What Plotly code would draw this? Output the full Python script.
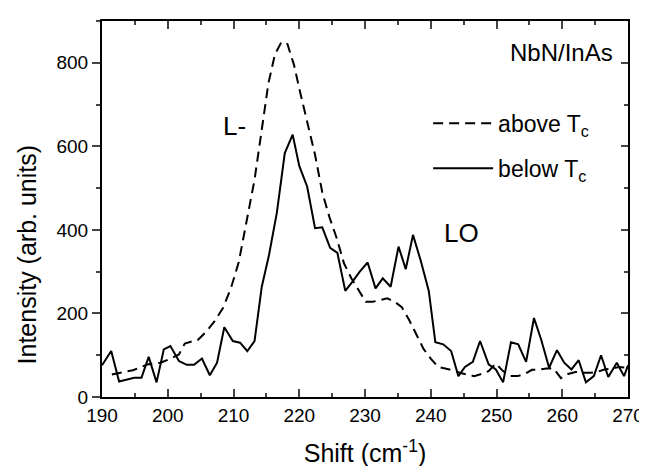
import plotly.graph_objects as go

# Below Tc (solid)
below_x = [190.0, 191.4, 192.6, 193.7, 194.9, 196.0, 197.1, 198.3, 199.4, 200.4,
           201.7, 202.9, 204.0, 205.2, 206.4, 207.5, 208.6, 209.9, 211.0, 212.1,
           213.2, 214.3, 215.4, 216.6, 217.8, 219.0, 220.0, 221.2, 222.4, 223.5,
           224.7, 225.8, 227.0, 228.1, 229.2, 230.4, 231.6, 232.7, 233.9, 235.1,
           236.2, 237.3, 238.5, 239.7, 240.7, 241.9, 243.1, 244.2, 245.2, 246.4,
           247.5, 248.8, 249.9, 251.0, 252.2, 253.3, 254.5, 255.7, 256.8, 258.0,
           259.2, 260.3, 261.4, 262.5, 263.6, 264.8, 265.9, 267.0, 268.3, 269.4,
           270.0]
below_y = [76, 110, 37, 42, 46, 46, 96, 35, 114, 122,
           86, 77, 77, 92, 52, 82, 167, 134, 130, 110,
           134, 264, 340, 442, 584, 628, 553, 504, 404, 406,
           357, 345, 254, 276, 300, 322, 260, 284, 264, 360,
           306, 388, 325, 254, 131, 126, 110, 50, 72, 84,
           134, 78, 66, 35, 131, 126, 84, 189, 137, 70,
           112, 82, 66, 88, 35, 50, 100, 48, 82, 50,
           76]

# Above Tc (dashed)
above_x = [191.5, 193.0, 194.7, 196.9, 198.9, 200.5, 201.7, 202.6, 204.6, 205.9,
           207.1, 208.4, 209.6, 210.8, 212.1, 213.2, 214.3, 215.3, 216.3, 217.3,
           218.2, 219.2, 220.2, 221.3, 222.4, 223.5, 224.6, 225.7, 226.8, 227.9,
           229.0, 230.1, 231.2, 232.3, 233.4, 234.5, 235.6, 236.7, 237.8, 238.9,
           240.0, 241.1, 242.2, 243.3, 244.4, 245.5, 246.6, 247.7, 248.8, 249.9,
           251.0, 252.1, 253.2, 254.3, 255.4, 256.5, 257.6, 258.7, 259.8, 260.9,
           262.0, 263.1, 264.2, 265.3, 266.4, 267.5, 268.6, 269.7]
above_y = [54, 58, 64, 78, 82, 92, 102, 128, 137, 157,
           181, 213, 260, 323, 430, 520, 640, 750, 820, 850,
           845, 795, 725, 656, 580, 490, 430, 380, 320, 285,
           255, 228, 228, 232, 236, 228, 215, 185, 150, 115,
           92, 72, 68, 64, 58, 54, 50, 55, 62, 80,
           62, 50, 50, 55, 65, 66, 68, 68, 45, 55,
           60, 58, 58, 60, 66, 68, 72, 70]

x_range = [190, 270]
y_range = [0, 900]
x_ticks = [190, 200, 210, 220, 230, 240, 250, 260, 270]
y_ticks = [0, 200, 400, 600, 800]

FONT = "Liberation Sans, Arial, sans-serif"

fig = go.Figure()
fig.add_trace(go.Scatter(x=above_x, y=above_y, mode="lines", name="above T<sub>c</sub>",
                         line=dict(color="black", width=2, dash="10px,6px"),
                         legendgroup="a"))
fig.add_trace(go.Scatter(x=below_x, y=below_y, mode="lines", name="below T<sub>c</sub>",
                         line=dict(color="black", width=2), legendgroup="b"))
# empty trace to carry the right-hand axis
fig.add_trace(go.Scatter(x=[], y=[], yaxis="y2", showlegend=False, hoverinfo="skip"))

fig.update_layout(
    width=647, height=466,
    margin=dict(l=94, r=17, t=11, b=76),
    paper_bgcolor="white", plot_bgcolor="white",
    font=dict(family=FONT, color="black", size=19),
    showlegend=True,
    legend=dict(x=0.62, y=0.785, xanchor="left", yanchor="top",
                bgcolor="rgba(0,0,0,0)", font=dict(size=23),
                itemwidth=60, tracegroupgap=12),
    xaxis=dict(range=x_range, tickvals=x_ticks, ticks="inside", ticklen=8, tickwidth=1.8,
               showline=True, linewidth=2, linecolor="black", mirror="ticks",
               showgrid=False, zeroline=False,
               minor=dict(dtick=5, ticks="inside", ticklen=4, tickwidth=1.5, tick0=190),
               title=dict(text="Shift (cm<sup>-1</sup>)", font=dict(size=25), standoff=20),
               tickfont=dict(size=19)),
    yaxis=dict(range=y_range, tickvals=y_ticks, ticks="outside", ticklen=8, tickwidth=1.8,
               showline=True, linewidth=2, linecolor="black", mirror=True,
               showgrid=False, zeroline=False,
               minor=dict(dtick=100, ticks="outside", ticklen=4, tickwidth=1.5, tick0=0),
               tickfont=dict(size=19)),
    yaxis2=dict(range=y_range, overlaying="y", side="right", tickvals=y_ticks,
                ticks="inside", ticklen=7, tickwidth=1.8, showticklabels=False,
                showline=False, showgrid=False, zeroline=False,
                minor=dict(dtick=100, ticks="inside", ticklen=4, tickwidth=1.5, tick0=0)),
    annotations=[
        dict(text="Intensity (arb. units)", textangle=-90, xref="paper", yref="paper",
             x=-0.142, y=0.38, xanchor="center", yanchor="middle", showarrow=False,
             font=dict(size=25)),
        dict(text="NbN/InAs", xref="paper", yref="paper", x=0.976, y=0.916,
             xanchor="right", yanchor="middle", showarrow=False, font=dict(size=24)),
        dict(text="L-", xref="x", yref="y", x=210.1, y=649, showarrow=False,
             xanchor="center", yanchor="middle", font=dict(size=26)),
        dict(text="LO", xref="x", yref="y", x=244.6, y=392, showarrow=False,
             xanchor="center", yanchor="middle", font=dict(size=26)),
    ],
)

fig.write_html("out.html")
